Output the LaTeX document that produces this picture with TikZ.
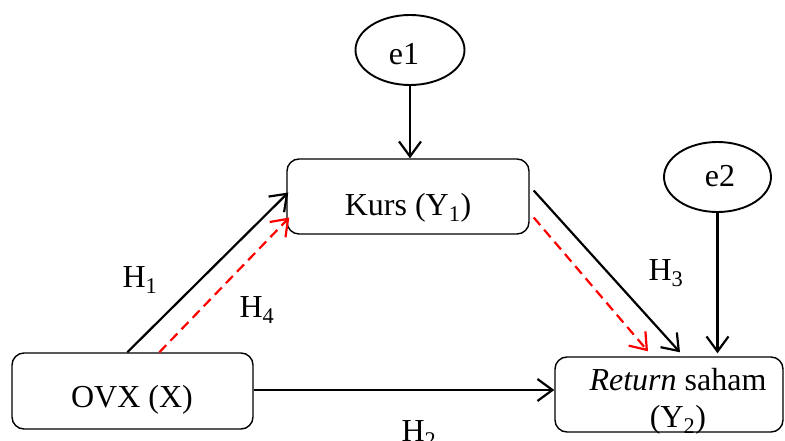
\documentclass[tikz,border=0pt]{standalone}
\usepackage{fontspec}
\setmainfont{Liberation Serif}
\usetikzlibrary{arrows.meta,calc,shapes.geometric}
\begin{document}
\begin{tikzpicture}[x=1pt,y=-1pt,
  every node/.style={font=\fontsize{32}{40}\selectfont},
  box/.style={draw,rounded corners=12pt,line width=1.4pt,inner sep=0pt},
  err/.style={draw,ellipse,line width=1.9pt,inner sep=0pt},
  txt/.style={inner sep=0pt,anchor=base},
  arr/.style={line width=2.2pt,-{Straight Barb[length=15pt,width=22pt,line width=2.2pt]}},
  rarr/.style={arr,red,dash pattern=on 10pt off 6pt}]
\useasboundingbox (0,0) rectangle (785,441);
\node[err,minimum width=109pt,minimum height=70pt] (e1) at (410,50) {};
\node[err,minimum width=107pt,minimum height=70pt] (e2) at (717.5,177) {};
\node[box,minimum width=242pt,minimum height=75pt] (kurs) at (408,196.5) {};
\node[box,minimum width=241pt,minimum height=76pt] (ovx) at (132.5,391) {};
\node[box,minimum width=228pt,minimum height=75pt] (ret) at (669,394.5) {};
\node[txt] (te1) at (404,65) {e1};
\node[txt] (te2) at (720,187) {e2};
\node[txt] (tkurs) at (408,215) {Kurs (Y\textsubscript{1})};
\node[txt] (tovx) at (132,407) {OVX (X)};
\node[txt] (tret1) at (678,390) {\textit{Return} saham};
\node[txt] (tret2) at (678,427) {(Y\textsubscript{2})};
\node[txt] (h1) at (140,287) {H\textsubscript{1}};
\node[txt] (h4) at (257,317) {H\textsubscript{4}};
\node[txt] (h3) at (666,280) {H\textsubscript{3}};
\node[txt] (h2) at (419,441) {H\textsubscript{2}};
\draw[arr] (e1.south) -- (e1.south |- kurs.north);
\draw[arr] (e2.south) -- ($(e2.south |- ret.north)+(0,-3)$);
\draw[arr] ($(ovx.north west)+(116,0)$) -- ($(kurs.west)+(2,-4)$);
\draw[rarr] ($(ovx.north west)+(148,0)$) -- ($(kurs.west)+(3,21)$);
\draw[arr] ($(kurs.east)+(4,-6)$) -- ($(ret.north)+(11,-4)$);
\draw[rarr] ($(kurs.east)+(4,21)$) -- ($(ret.north)+(-21,-5)$);
\draw[arr] ($(ovx.east)+(0,-1)$) -- ($(ovx.east -| ret.west)+(0,-1)$);
\end{tikzpicture}
\end{document}
